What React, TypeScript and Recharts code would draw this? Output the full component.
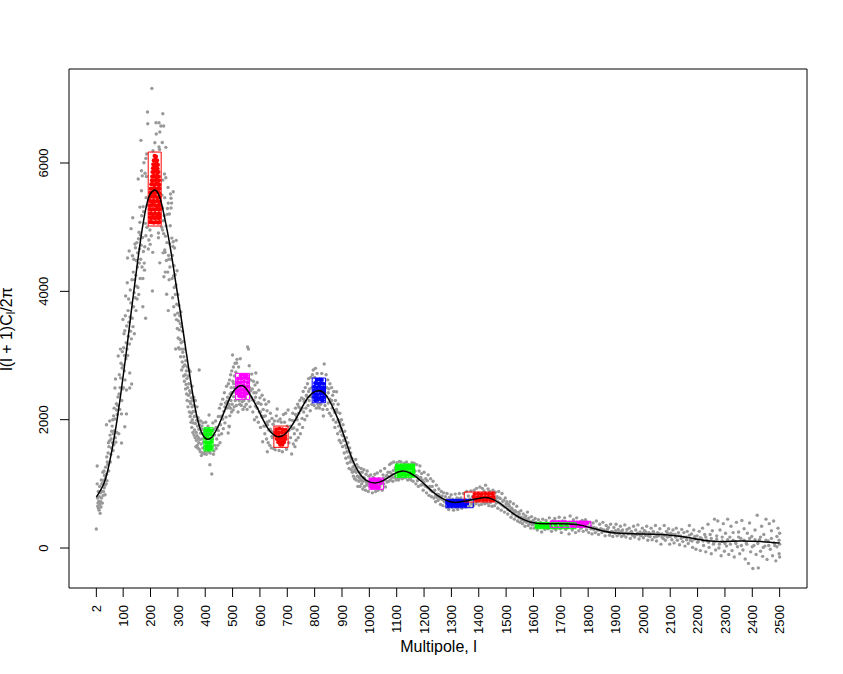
import React from "react";
import { ComposedChart, Line, Scatter, XAxis, YAxis, ReferenceArea, Label } from "recharts";

const xTicks = [2,100,200,300,400,500,600,700,800,900,1000,1100,1200,1300,1400,1500,1600,1700,1800,1900,2000,2100,2200,2300,2400,2500];
const yTicks = [0,2000,4000,6000];

const curveL = [2,30,50,70,90,110,130,150,170,190,205,219,235,250,270,290,310,330,350,370,390,410,430,450,470,490,510,537,560,580,600,630,660,680,700,730,760,790,817,840,870,900,930,960,990,1020,1050,1090,1125,1160,1190,1220,1250,1285,1320,1370,1415,1445,1480,1520,1560,1610,1685,1758,1810,1850,1900,1990,2100,2170,2234,2300,2356,2430,2500];
const curveD = [795,1010,1330,1790,2360,3000,3700,4370,4980,5420,5550,5575,5450,5180,4740,4200,3650,3070,2510,2040,1770,1695,1760,1920,2130,2340,2480,2530,2420,2270,2100,1860,1740,1745,1810,2000,2240,2410,2450,2390,2160,1840,1470,1190,1050,1013,1050,1155,1200,1140,1040,920,815,735,712,748,784,770,690,555,450,385,380,365,315,270,235,218,200,160,112,100,108,100,78];

const grayA = [2,296,5,1278,5,1000,6,780,7,650,8,700,9,880,10,620,11,730,12,590,13,800,14,960,15,680,16,540,17,860,18,720,19,640,20,1060,21,780,22,1000,23,880,24,700,25,1000,26,1180,27,820,28,880,29,1050,30,1200,31,940,32,1130,33,980,34,830,35,1080,36,1260,38,1000,39,1920,39,1150,40,1420,41,1050,42,1340,44,1300,45,1480,46,1640,47,1200,48,1580,50,1670,51,1979,52,1760,53,1340,55,1460,56,1700,57,1560,58,1820,60,1900,61,1640,62,2000,63,1520,64,1780,65,2060,66,1610,67,2180,68,1830,70,2010,70,2493,71,1720,72,2634,73,1650,75,2250,76,2150,77,1800,78,2080,80,2220,81,2353,82,2992,82,1418,84,1780,85,2400,86,2700,88,2160,89,2500,90,3100,91,2650,92,2880,94,2090,94,1636,95,2300,96,2805,97,3060,98,2480,99,3563,100,2850,101,2500,102,3120,103,3340,104,2760,105,3000,106,3386,106,1890,107,2620,108,3620,109,3927,110,2950,111,3200,112,2462,112,2090,113,3460,114,3100,115,4133,116,4519,117,3000,118,3700,119,3300,120,3880,121,3520,122,4628,123,3180,124,2493,124,2727,125,3600,126,4020,127,3380,128,3820,129,4977,130,3260,131,2556,132,4180,133,3580,134,4555,135,5147,136,3450,137,4300,138,3760,139,4500,140,3980,141,3340,142,4180,143,4737,144,3900,145,4680,146,4250,147,3700,148,4480,149,4080,150,4760,151,3880,152,4380,153,4600,154,4060,155,5750,156,4820,157,3950,158,4920,159,4440,160,4660,161,5313,161,5075,162,4200,163,4880,164,4500,165,6353,166,4720,167,5880,167,5568,168,5180,169,4380,170,5800,171,4840,172,3760,172,4200,173,5320,174,4620,175,5240,176,6004,177,4440,178,4330,179,4695,180,5840,181,5060,182,3580,183,6072,183,4867,184,5460,185,5790,186,6140,187,5000,188,5340,189,6795,190,6612,192,4660,194,4800,198,4955,199,4732,203,4867,205,7163,207,4005,208,4608,209,6192,216,6316,220,6628,221,6452,229,4909,229,4836,231,6628,231,6250,233,6212,234,6483,234,4444,238,6576,243,6320,244,4955,245,6768,245,5734,247,5100,248,6576,249,4228,251,5828,252,4644,253,4608,256,6244,256,5770,259,3955];
const grayB = [241,5000,242,5500,244,5300,246,4600,248,4900,250,5180,252,5460,254,4300,255,4860,257,5020,258,4480,260,4760,261,5200,262,5290,263,4300,264,5620,265,5375,265,3700,266,4560,267,4500,268,4180,269,5205,270,4740,271,4380,272,5023,273,5517,274,4500,275,5450,275,5298,277,5375,278,4830,279,4200,280,4560,281,3900,282,4700,283,5553,283,4773,284,4240,285,3760,286,4400,287,4060,288,4675,289,3631,290,4260,291,3950,292,3101,293,4100,294,4795,295,3560,296,3800,297,4320,298,3420,299,3660,300,3950,301,3273,302,3540,303,3120,304,3780,305,3400,306,3100,307,3620,308,3250,309,3500,310,2980,311,3680,312,3200,313,3450,314,2774,315,3100,316,2900,317,3380,318,3050,319,2820,320,3220,321,2680,322,2980,323,3100,324,2600,325,2850,326,2852,327,2700,328,2480,329,2920,330,2550,331,2760,332,2400,333,2640,334,2300,335,2820,336,2500,337,2200,338,2680,339,2380,340,2560,341,2774,342,2120,343,2450,344,2280,345,2050,346,2420,347,2250,348,1960,349,2340,350,2100,351,1880,352,2200,353,2000,354,2300,355,1800,356,2130,357,1950,358,2220,359,1760,360,2050,361,1840,362,2130,363,1720,364,1940,365,2060,366,1579,367,1800,368,1680,369,1990,370,1750,371,1600,372,1900,373,1560,374,2030,375,1720,376,1640,377,1850,378,2774,378,1540,379,1920,380,1690,382,1500,383,1790,384,1980,385,1620,386,1440,387,1850,388,1700,390,1480,391,1560,392,1950,394,1650,396,1470,398,1830,400,1500,402,1960,404,1460,406,1740,408,1600,410,1900,412,1500,414,2073,416,1640,417,1298,418,1480,420,1820,422,1560,424,1153,426,1700,428,1950,430,1460,432,1512,434,1760,436,1600,438,1980,440,1550];
const grayC = [442,1700,444,1880,446,1600,448,2050,450,1760,452,2180,454,1640,456,1920,458,2240,460,1780,462,2060,464,2320,466,1860,468,2130,470,2420,472,1950,474,2260,476,2040,478,2520,480,2180,482,2350,484,1792,485,2560,486,2240,487,1900,488,1890,489,2620,490,2060,491,2400,492,2180,493,2700,494,2300,495,2500,496,2120,497,2760,498,2240,499,2420,500,3008,501,2600,502,2150,503,2820,504,2360,505,2500,506,2200,507,2680,508,2440,509,2880,510,2300,512,2740,514,2220,515,2883,516,2940,518,2600,520,2120,522,2820,524,2300,526,2240,528,2950,530,2380,532,2220,535,2280,538,2160,541,2300,544,2200,547,2340,550,2240,553,2160,555,3132,558,3100,560,2290,561,2840,562,2500,564,2200,566,2620,568,2350,570,2710,572,2480,574,2120,576,2600,578,2300,580,2000,582,2540,584,2210,585,2727,586,2420,588,2040,590,2580,592,2260,594,1960,596,2460,598,2120,600,2340,602,1880,604,2240,606,2060,608,2380,610,1656,612,2160,614,1900,616,2310,618,1780,620,2060,622,2240,624,1700,626,2140,627,1500,628,1920,630,1640,632,2280,634,1980,636,1600,638,2100,640,1820,642,1560,644,2020,646,1720,648,1930,650,1550];
const grayD = [653,1980,656,1530,660,2060,663,2166,666,1980,670,1520,674,2010,678,1960,682,1500,686,2080,690,1960,694,2100,697,1540,700,1900,703,2150,706,1640,709,2000,712,1720,716,1465,718,1860,720,2100,722,1620,724,1980,726,1780,728,1580,730,2180,732,1680,734,2040,736,1840,738,2240,740,1720,742,2100,744,1930,746,2300,748,1780,750,2150,752,2340,754,2020,756,1880,758,2440,760,2120,762,2280,764,2000,766,2500,768,2180,770,2380,772,2060,774,2560,776,2220,778,2640,780,2300,782,2480,784,2140,786,2660,788,2360,790,2240,792,2700,795,2774,798,2220,800,2660,803,2800,806,2180,809,2720,812,2240,815,2200,818,2180,822,2240,826,2720,830,2160,832,2057,835,2867,838,2220,842,2700,844,2360,846,2160,848,2620,850,2260,852,2480,854,2100,856,2560,858,2280,860,2060,862,2500,864,2180,866,2380,868,2000,870,2440,872,2140,874,1880,876,2300,878,1960,880,2436,882,2120,884,1780,886,2240,888,1900,890,1680,892,2100,894,1820,896,1640,898,2000,900,1760,902,1580,904,1920,906,1680,908,1480,910,1820,912,1600,914,1400,916,1720,918,1500,920,1320,922,1640,924,1420,926,1240,928,1560,930,1340,932,1480,934,1220,936,1400,938,1180,940,1340,942,1120,944,1280,946,1080,948,1220,950,1380,952,1060,954,1300,956,1120,958,960,960,1260,962,1040,964,1180,966,960,968,1120,970,1240,972,1000,974,1180,976,920,978,1100,980,1220,982,960,984,1060,986,900,988,1150,990,980,992,1200,994,1040,996,880,998,1120];
const grayE = [1002,960,1005,1140,1008,1020,1011,860,1014,1100,1017,940,1020,1150,1023,880,1026,1060,1029,1170,1032,900,1035,1080,1038,960,1041,1200,1044,1000,1047,900,1050,1140,1053,1000,1056,1240,1059,950,1062,1120,1065,1030,1068,1180,1071,1040,1074,1300,1077,1060,1080,1320,1083,1150,1086,1040,1089,1340,1092,1100,1095,1250,1098,1060,1101,1330,1104,1090,1107,1060,1110,1350,1113,1100,1116,1340,1120,1080,1124,1090,1128,1320,1132,1100,1136,1340,1140,1060,1144,1300,1148,1080,1152,1060,1156,1330,1160,1040,1164,1320,1167,1200,1170,1000,1173,1300,1176,1120,1179,960,1182,1200,1185,1280,1188,980,1191,1160,1194,1060,1197,900,1200,1180,1203,980,1206,1080,1209,860,1212,1050,1215,1140,1218,820,1221,960,1224,1080,1227,800,1230,960,1233,1040,1236,780,1239,900,1242,720,1245,980,1248,840,1251,740,1254,920,1257,800,1260,680,1263,880,1266,760,1269,660,1272,860,1275,720,1278,800,1281,640,1284,850,1287,720,1290,600,1293,790,1296,680,1299,830,1302,640,1305,760,1308,590,1311,720,1314,840,1317,640,1320,780,1323,600,1326,720,1329,850,1332,660,1335,780,1338,620,1341,700,1344,850,1347,680,1350,760,1353,640,1356,880,1359,710,1362,810,1365,650,1368,760,1371,890,1374,690,1377,800,1380,660,1383,900,1386,760,1389,690,1392,930,1395,720,1398,820,1401,670,1404,950,1407,780,1410,680,1413,930,1416,720,1419,890,1422,690,1425,980,1428,790,1431,700,1434,920,1437,660,1440,880,1443,710,1446,850,1449,650,1452,900,1455,740,1458,660,1461,870,1464,700,1467,800,1470,620,1473,880,1476,700,1479,770,1482,590,1485,850,1488,660,1491,740,1494,560,1497,780,1500,640,1503,720,1506,530,1509,680,1512,590,1515,720,1518,480,1521,620,1524,530,1527,690,1530,450,1533,580,1536,500,1539,650,1542,420,1545,560,1548,470,1551,400,1554,580,1557,440,1560,380,1563,530,1566,420,1569,340,1572,500,1575,400,1578,560,1581,350,1584,470,1587,380,1590,310,1593,490,1596,360,1599,430];
const grayF = [1602,310,1606,460,1610,350,1614,280,1618,440,1622,340,1626,400,1630,250,1634,450,1638,320,1642,290,1646,430,1650,370,1654,300,1658,470,1662,340,1666,260,1670,420,1674,310,1678,460,1682,280,1686,400,1690,330,1694,480,1698,300,1702,240,1706,420,1710,340,1714,470,1718,290,1722,400,1726,330,1730,220,1734,500,1738,360,1742,280,1746,440,1750,330,1754,240,1758,470,1762,340,1766,270,1770,400,1774,310,1778,430,1782,260,1786,360,1790,440,1794,280,1798,380,1802,240,1806,400,1810,300,1814,220,1818,390,1822,320,1826,240,1830,420,1834,280,1838,210,1842,370,1846,300,1850,240,1854,400,1858,280,1862,190,1866,350,1870,260,1874,320,1878,200,1882,370,1886,260,1890,180,1894,320,1898,230,1902,370,1906,190,1910,290,1914,220,1918,340,1922,180,1926,280,1930,230,1934,360,1938,170,1942,290,1946,220,1950,310,1954,150,1958,260,1962,200,1966,340,1970,170,1974,280,1978,210,1982,360,1986,140,1990,250,1994,190,1998,310];
const grayG = [2002,160,2006,270,2010,200,2014,340,2018,120,2022,240,2026,180,2030,310,2034,130,2038,260,2042,170,2046,350,2050,110,2054,240,2058,190,2062,300,2066,60,2070,220,2074,150,2078,350,2082,120,2086,260,2090,170,2094,300,2098,60,2102,230,2106,130,2110,280,2114,80,2118,210,2122,310,2126,120,2130,240,2134,50,2138,190,2142,290,2146,100,2150,240,2154,30,2158,170,2162,260,2166,70,2170,350,2174,120,2178,220,2182,10,2186,280,2190,140,2194,-20,2198,190,2202,100,2206,260,2210,-40,2214,150,2218,310,2222,40,2226,210,2230,-60,2234,120,2238,370,2242,10,2246,210,2250,-90,2254,270,2258,60,2262,450,2266,-30,2270,190,2274,420,2278,0,2282,280,2286,-120,2290,110,2294,380,2298,-50,2302,230,2306,30,2310,450,2314,-100,2318,170,2322,340,2326,-40,2330,240,2334,-140,2338,100,2342,400,2346,20,2350,250,2354,-90,2358,150,2362,430,2366,-30,2370,300,2374,-170,2378,80,2382,230,2386,-240,2390,390,2394,-60,2398,180,2402,-320,2406,40,2410,280,2414,-100,2418,510,2422,-310,2426,130,2430,-50,2434,340,2438,-130,2442,210,2446,30,2450,450,2454,-180,2458,110,2462,380,2466,-20,2470,270,2474,-120,2478,420,2482,40,2486,-200,2490,180,2494,310,2498,-90,2500,-140,2500,230,2500,60];
const grayMidA = [345,2750,352,2520,358,2350,364,2300,370,2200,376,1980,382,1860,388,1900,394,1790,400,1850,408,1800,416,1780,424,1820,432,1850,440,1880,448,1830,456,2050,464,2010,472,2200,480,2290,488,2200,496,2420,504,2560,512,2420,520,2560,528,2480,546,2460,552,2520,560,2420,566,2450,572,2310,578,2420,584,2350,590,2180,596,2260,602,2120,608,2040,614,2050,620,1900,626,1960,632,1840,638,1850,644,1740,648,1810,706,1830,712,1900,718,1990,724,1870,730,2080,736,2000,742,2200,748,2180,754,2180,760,2320,766,2280,772,2360,778,2440,784,2360,790,2500,844,2500,850,2420,856,2320,862,2300,868,2240,874,2110,880,2160,886,2000,892,1960,898,1860,904,1750,910,1680,916,1560,922,1500,928,1420,934,1380,940,1260,946,1200,952,1180,958,1120,964,1090,970,1060,976,1040,982,1090,988,1030,994,1000];
const grayMidB = [1004,1040,1010,960,1016,1010,1022,990,1028,1000,1034,1020,1040,1060,1046,1030,1052,1090,1058,1060,1064,1130,1070,1110,1076,1180,1082,1100,1088,1210,1094,1130,1170,1130,1176,1050,1182,1080,1188,1100,1194,990,1200,1030,1206,960,1212,950,1218,930,1224,900,1230,880,1236,880,1242,820,1248,790,1254,830,1260,770,1266,810,1272,740,1278,730,1284,750,1290,720,1296,740,1302,720,1308,690,1314,740,1320,700,1326,770,1332,730,1338,690,1464,770,1470,720,1476,780,1482,680,1488,730,1494,640,1500,690,1506,600,1512,650,1518,600,1524,590,1530,560,1536,560,1542,500,1548,530,1554,480,1560,470,1566,470,1572,440,1578,450,1584,420,1590,400,1596,410,1602,380,1608,400,1760,380,1770,340,1780,350,1790,330,1800,330,1810,340,1820,290,1830,310,1840,280,1850,290,1860,260,1870,290,1880,240,1890,250,1900,270,1910,240,1920,260,1930,200,1940,240,1950,230,1960,240,1970,200,1980,230,1990,200,2000,230,2010,250,2020,190,2030,220,2040,230,2050,180,2060,220,2070,170,2080,200,2090,230,2100,180,2110,210,2120,170,2130,190,2140,150,2150,170,2160,130,2170,200,2180,110,2190,180,2200,90,2210,160,2220,110,2230,170,2240,90,2250,150,2260,90,2270,140,2280,60,2290,170,2300,70,2310,130,2320,60,2330,120,2340,70,2350,170,2360,40,2370,120,2380,60,2390,150,2400,20,2410,130,2420,70,2430,170,2440,10,2450,120,2460,40,2470,150,2480,80,2490,20,2498,120];

const red1L = [215,220,212,218,224,210,216,222,227,209,214,220,226,207,213,219,225,229,206,212,218,224,230,205,211,217,223,231,203,209,216,222,229,232,201,207,214,221,228,232,200,206,213,220,227,232,198,205,212,219,226,233,198,204,211,218,225,233,198,203,210,217,224,231,233,198,203,210,217,224,231,233,198,202,209,216,223,230,233,198,202,209,216,223,230,233,198,204,212,220,228,233];
const red1D = [6110,6100,6040,6050,6040,5980,5980,5990,5970,5920,5920,5930,5910,5860,5860,5870,5850,5860,5790,5800,5790,5800,5790,5730,5730,5730,5740,5730,5670,5670,5660,5680,5670,5660,5600,5600,5610,5590,5610,5600,5540,5540,5530,5540,5550,5530,5470,5480,5470,5480,5460,5470,5410,5400,5410,5400,5410,5400,5340,5340,5350,5340,5330,5350,5340,5280,5270,5280,5270,5290,5270,5280,5210,5210,5200,5210,5200,5210,5200,5150,5140,5150,5140,5150,5140,5150,5080,5080,5070,5080,5070,5080];
const green1L = [403,412,421,402,411,420,403,412,422,403,413,421,403,412,421,404,412,420];
const green1D = [1830,1840,1830,1770,1770,1770,1710,1710,1700,1650,1640,1650,1590,1590,1590,1550,1540,1550];
const magenta1L = [530,542,552,520,532,544,555,519,530,542,555,518,529,541,555,518,528,540,552,519,529,541,553,524,534,544];
const magenta1D = [2690,2695,2690,2640,2640,2650,2640,2580,2580,2590,2580,2520,2520,2530,2520,2460,2460,2470,2460,2410,2410,2420,2410,2370,2360,2370];
const red2L = [660,671,682,694,658,668,680,692,659,669,681,692,662,672,684,693,667,678,688,674,682];
const red2D = [1850,1860,1850,1840,1800,1800,1800,1800,1750,1750,1740,1750,1700,1700,1700,1700,1650,1650,1650,1610,1610];
const blue2L = [808,818,826,802,812,822,832,799,808,818,826,834,798,808,818,826,834,799,809,821,833,799,810,822,832,802,812,824,830];
const blue2D = [2620,2625,2620,2570,2560,2570,2560,2510,2500,2510,2500,2500,2450,2450,2450,2450,2450,2400,2390,2400,2400,2350,2340,2340,2350,2300,2310,2310,2300];
const magenta2L = [1006,1018,1030,1042,1005,1016,1028,1040,1006,1018,1030,1010,1022,1034];
const magenta2D = [1060,1070,1060,1050,1020,1010,1020,1010,970,970,960,940,945,940];
const green2L = [1102,1114,1126,1138,1150,1160,1102,1112,1124,1136,1148,1160,1102,1114,1126,1138,1150,1160,1108,1120,1132,1144,1156];
const green2D = [1275,1280,1275,1280,1275,1280,1235,1230,1240,1230,1240,1230,1180,1190,1180,1190,1180,1180,1135,1140,1135,1140,1135];
const blue3L = [1286,1298,1310,1322,1334,1346,1356,1286,1298,1310,1322,1334,1346,1358,1290,1302,1314,1326,1338,1350];
const blue3D = [730,730,730,730,730,730,730,695,695,695,695,695,695,695,660,660,660,660,660,660];
const red3L = [1385,1398,1411,1424,1437,1450,1382,1395,1408,1421,1434,1447,1453,1390,1403,1416,1429,1442,1453];
const red3D = [840,845,840,845,840,845,795,790,795,790,795,790,795,750,750,750,750,750,750];
const green3L = [1612,1625,1638,1650,1662,1680,1700,1720,1740,1752,1612,1625,1638,1650,1664,1684,1704,1724,1744];
const green3D = [375,378,375,378,372,362,360,362,362,370,335,330,335,330,330,328,330,328,330];
const magenta3L = [1668,1680,1692,1704,1716,1732,1745,1758,1770,1782,1796,1740,1752,1764,1776,1788];
const magenta3D = [405,405,405,405,405,395,400,395,400,395,395,355,350,355,350,355];

type Pt = { l: number; d: number };
const pairs = (flat: number[]): Pt[] => {
  const out: Pt[] = [];
  for (let i = 0; i + 1 < flat.length; i += 2) out.push({ l: flat[i], d: flat[i + 1] });
  return out;
};
const zip = (ls: number[], ds: number[]): Pt[] => ls.map((l, i) => ({ l, d: ds[i] }));

const gray = [grayA, grayB, grayC, grayD, grayE, grayF, grayG, grayMidA, grayMidB].flatMap(pairs);
const curve = zip(curveL, curveD);

const clusters = [
  { color: "#ff0000", pts: zip(red1L, red1D), box: [191.5, 239, 5018, 6171] },
  { color: "#0000ff", pts: [], box: [2, 2, 452, 1169] },
  { color: "#00ff00", pts: zip(green1L, green1D), box: [395, 429, 1512, 1875] },
  { color: "#ff00ff", pts: zip(magenta1L, magenta1D), box: [511, 562, 2317, 2722] },
  { color: "#ff0000", pts: zip(red2L, red2D), box: [651, 703, 1569, 1901] },
  { color: "#0000ff", pts: zip(blue2L, blue2D), box: [791, 840, 2264, 2649] },
  { color: "#ff00ff", pts: zip(magenta2L, magenta2D), box: [999, 1052, 915, 1091] },
  { color: "#00ff00", pts: zip(green2L, green2D), box: [1095, 1166, 1102, 1309] },
  { color: "#0000ff", pts: zip(blue3L, blue3D), box: [1280, 1380, 628, 759] },
  { color: "#ff0000", pts: zip(red3L, red3D), box: [1347, 1459, 717, 873] },
  { color: "#00ff00", pts: zip(green3L, green3D), box: [1607, 1756, 301, 394] },
  { color: "#ff00ff", pts: zip(magenta3L, magenta3D), box: [1661, 1810, 323, 416] },
];

const FONT = "'Liberation Sans', Arial, sans-serif";
const dot = (color: string, r: number) => (p: any) => <circle cx={p.cx} cy={p.cy} r={r} fill={color} />;

const XTick = (p: any) => (
  <g>
    <text x={p.x} y={605} transform={`rotate(-90 ${p.x} 605)`} textAnchor="end" dy=".36em" fontFamily={FONT} fontSize={13} fill="#000">
      {p.payload.value}
    </text>
  </g>
);
const YTick = (p: any) => (
  <text x={48} y={p.y} transform={`rotate(-90 48 ${p.y})`} textAnchor="middle" fontFamily={FONT} fontSize={13} fill="#000">
    {p.payload.value}
  </text>
);

export default function App() {
  return (
    <div style={{ position: "absolute", left: 0, top: 0, width: 843, height: 674, background: "#fff" }}>
      <ComposedChart width={843} height={674} margin={{ top: 69, right: 36, bottom: 0, left: 0 }}>
        <XAxis
          type="number"
          dataKey="l"
          domain={[-98, 2600]}
          ticks={xTicks}
          interval={0}
          allowDataOverflow
          height={86}
          tickSize={9}
          axisLine={false}
          tickLine={{ stroke: "#000" }}
          tick={<XTick />}
        >
          <Label content={() => <text x={438.5} y={652} textAnchor="middle" fontFamily={FONT} fontSize={16} fill="#000">Multipole, l</text>} />
        </XAxis>
        <YAxis
          type="number"
          dataKey="d"
          domain={[-623, 7465]}
          ticks={yTicks}
          interval={0}
          allowDataOverflow
          width={69}
          tickSize={9}
          axisLine={false}
          tickLine={{ stroke: "#000" }}
          tick={<YTick />}
        >
          <Label
            content={() => (
              <text x={11.5} y={329} transform="rotate(-90 11.5 329)" textAnchor="middle" fontFamily={FONT} fontSize={16} fill="#000">
                l(l + 1)C<tspan dy="3" fontSize={12}>l</tspan><tspan dy="-3">/2π</tspan>
              </text>
            )}
          />
        </YAxis>
        <ReferenceArea x1={-98} x2={2600} y1={-623} y2={7465} fill="none" stroke="#000" strokeWidth={1} ifOverflow="visible" />
        <Scatter data={gray} fill="#999999" isAnimationActive={false} shape={dot("#999999", 1.7)} />
        {clusters.map((c, i) =>
          c.pts.length ? <Scatter key={"p" + i} data={c.pts} fill={c.color} isAnimationActive={false} shape={dot(c.color, 2.1)} /> : null
        )}
        {clusters.map((c, i) => (
          <ReferenceArea key={"b" + i} zIndex={700} x1={c.box[0]} x2={c.box[1]} y1={c.box[2]} y2={c.box[3]} fill="none" stroke={c.color} strokeWidth={1} ifOverflow="visible" />
        ))}
        <Line zIndex={800} data={curve} dataKey="d" type="natural" stroke="#000" strokeWidth={1.5} dot={false} activeDot={false} isAnimationActive={false} />
      </ComposedChart>
    </div>
  );
}
